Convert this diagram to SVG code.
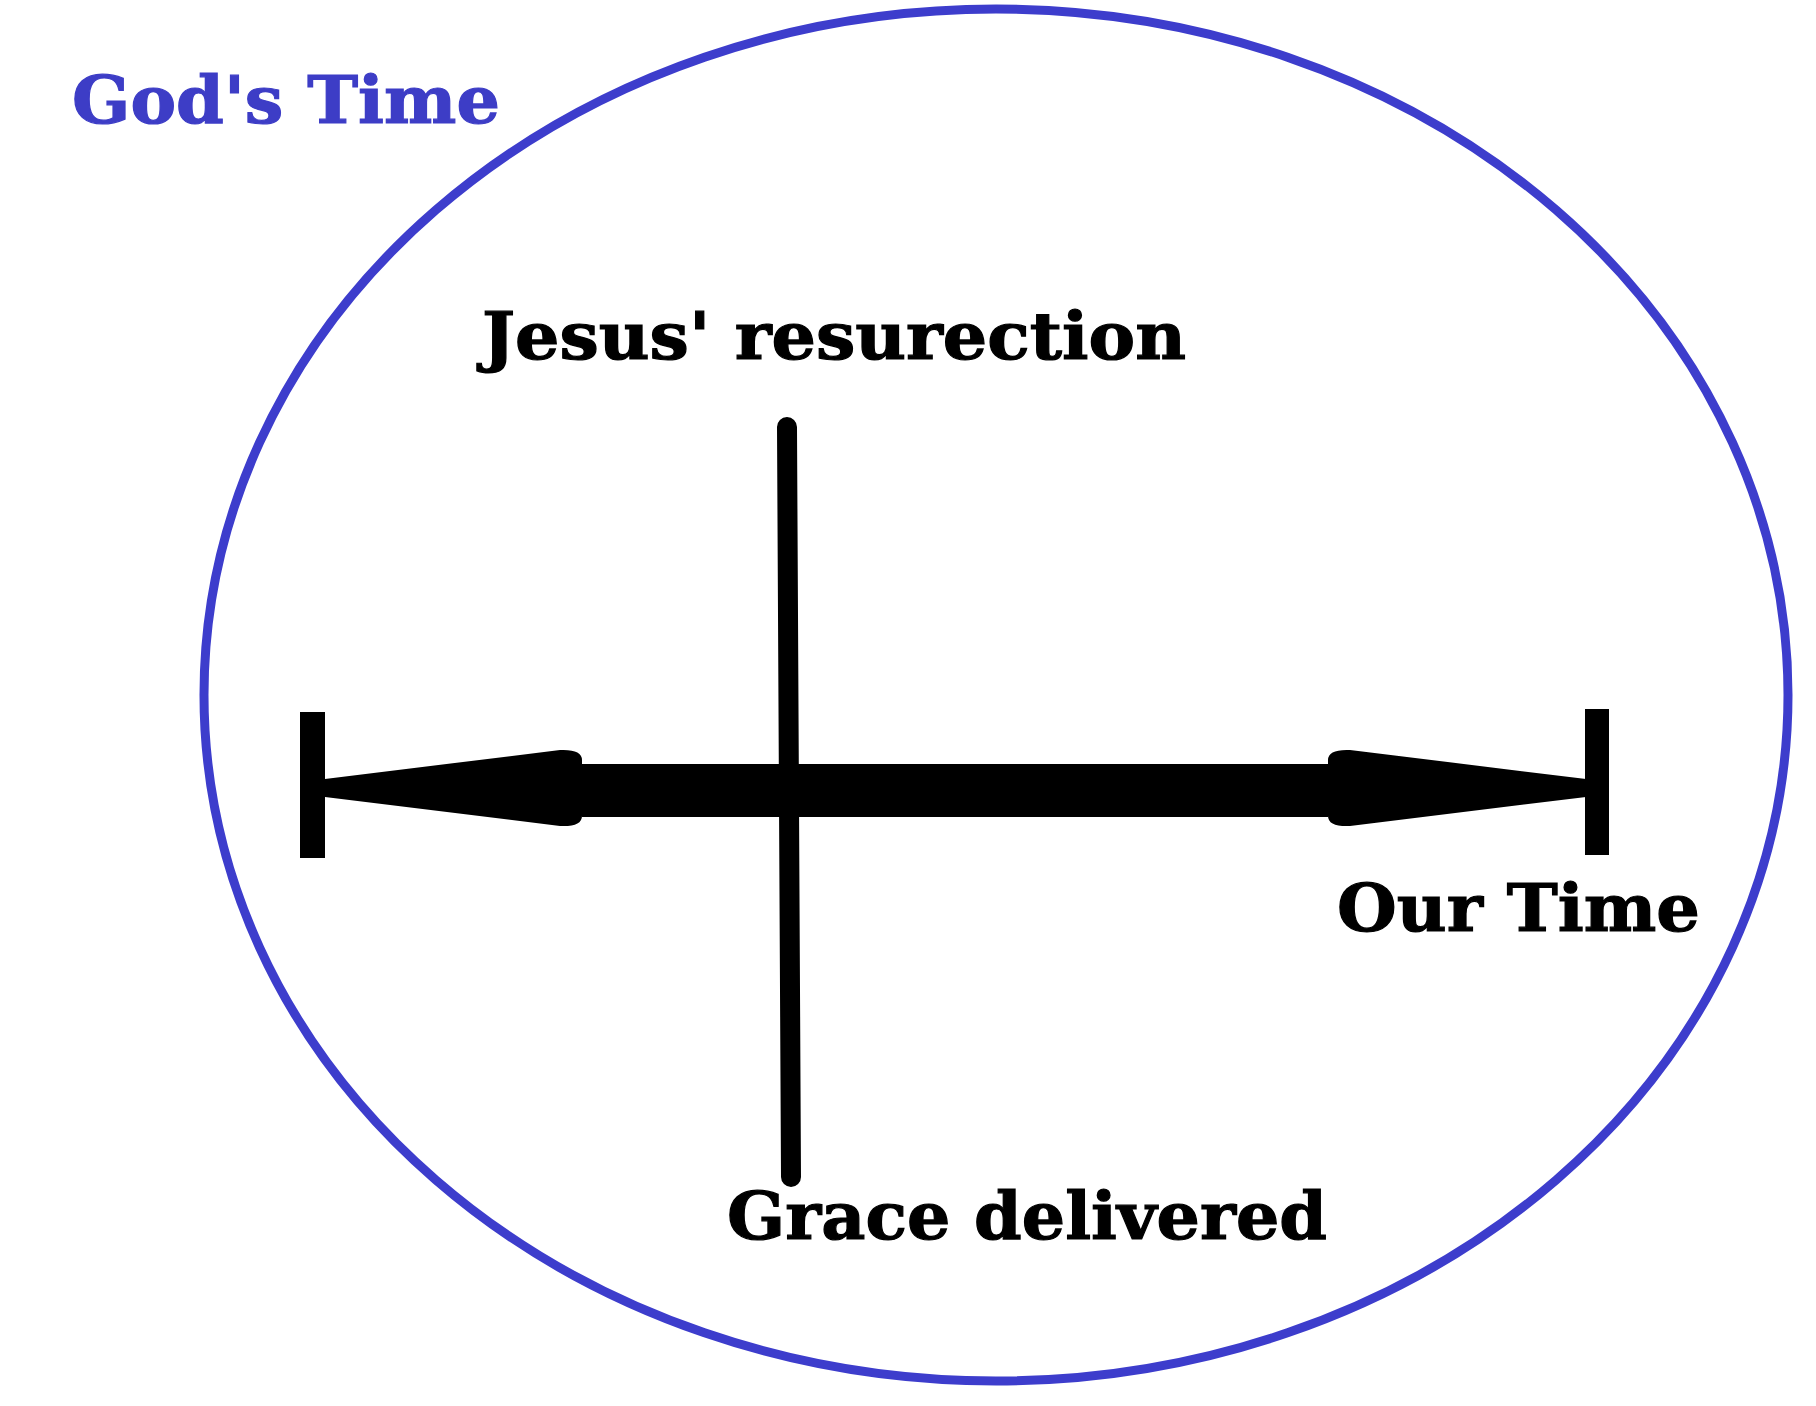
<svg xmlns="http://www.w3.org/2000/svg" width="1816" height="1406" viewBox="0 0 1816 1406">
  <style>
    .lbl { font-family: "DejaVu Serif", "Liberation Serif", serif; font-weight: bold; font-size: 66px; }
    .blk { fill: #000000; stroke: #000000; stroke-width: 1.2px; }
    .blue { fill: #3d3dc6; stroke: #3d3dc6; stroke-width: 1.2px; }
  </style>
  <rect width="1816" height="1406" fill="#ffffff"/>
  <g id="gods-time">
    <ellipse cx="996" cy="695" rx="792" ry="686" fill="none" stroke="#3d3dcc" stroke-width="9"/>
    <text class="lbl blue" x="72" y="123" textLength="428" lengthAdjust="spacingAndGlyphs">God's Time</text>
  </g>
  <g id="connectors">
    <g id="timeline">
      <rect x="300" y="712" width="25" height="146" fill="#000"/>
      <rect x="1585" y="709" width="24" height="146" fill="#000"/>
      <path d="M325,779 L560,750 Q582,749 582,760 L582,764 L1328,764 L1328,760 Q1328,749 1350,750 L1586,779 L1586,797 L1350,826 Q1328,827 1328,816 L1328,817 L582,817 L582,816 Q582,827 560,826 L325,797 Z" fill="#000"/>
    </g>
    <line id="cross-line" x1="787" y1="427" x2="791" y2="1177" stroke="#000" stroke-width="20" stroke-linecap="round"/>
  </g>
  <g id="jesus">
    <text class="lbl blk" x="482" y="359" textLength="704" lengthAdjust="spacingAndGlyphs">Jesus' resurection</text>
  </g>
  <g id="grace">
    <text class="lbl blk" x="727" y="1239" textLength="600" lengthAdjust="spacingAndGlyphs">Grace delivered</text>
  </g>
  <g id="our-time">
    <text class="lbl blk" x="1337" y="931" textLength="363" lengthAdjust="spacingAndGlyphs">Our Time</text>
  </g>
</svg>
